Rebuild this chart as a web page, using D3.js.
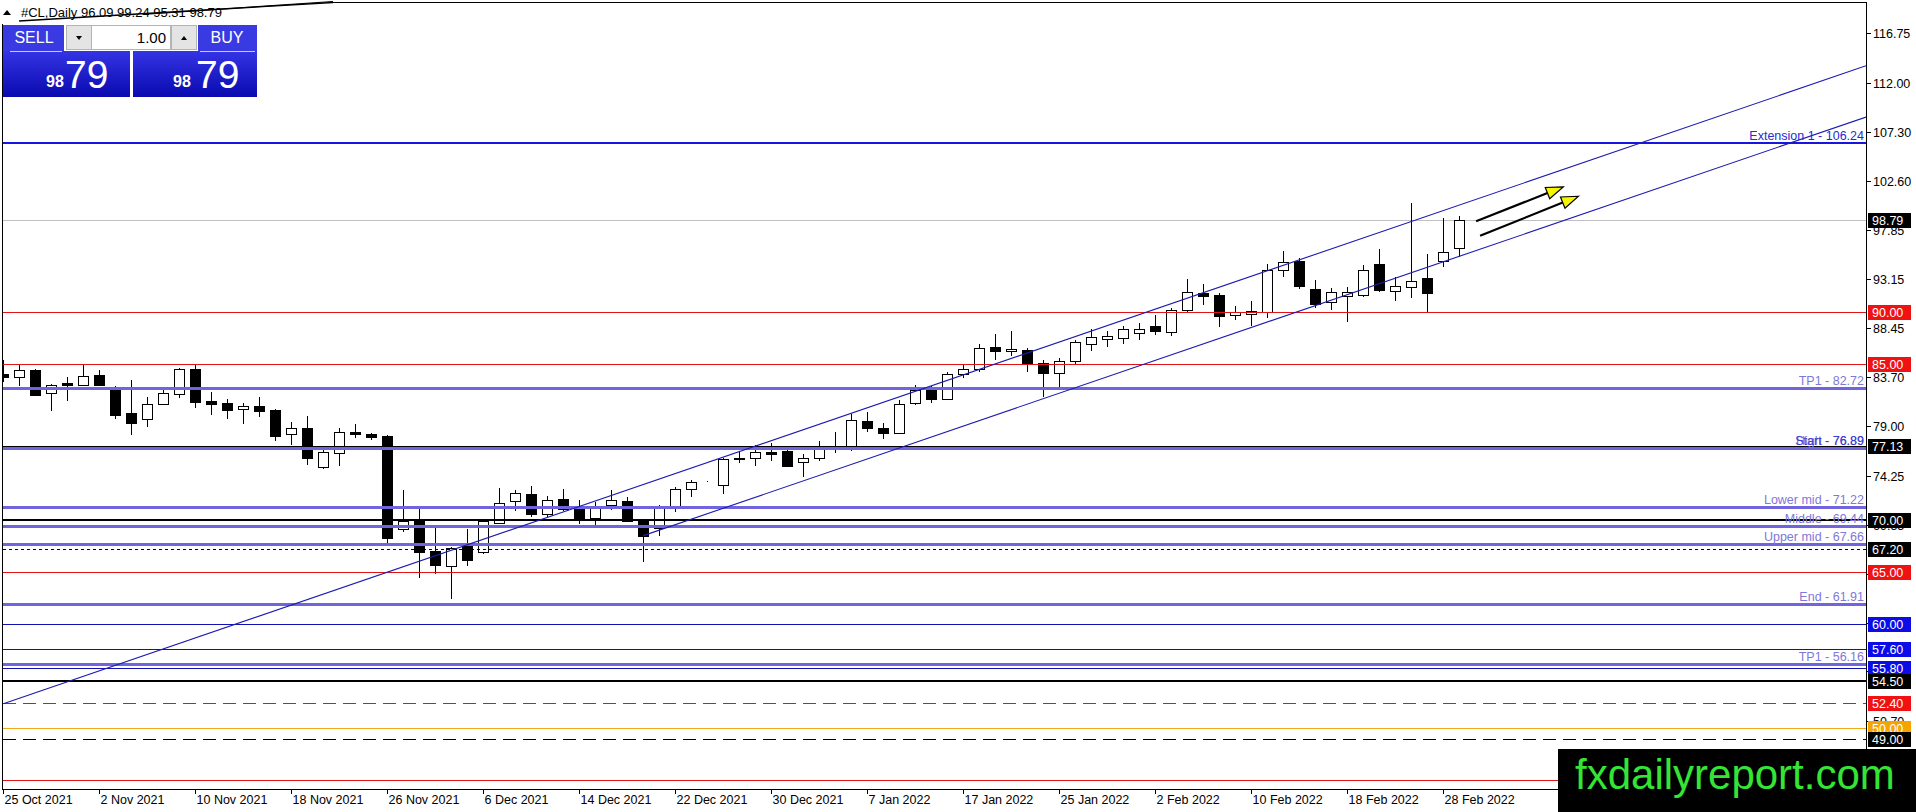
<!DOCTYPE html>
<html><head><meta charset="utf-8">
<script src="https://cdn.jsdelivr.net/npm/d3@7"></script>
<style>html,body{margin:0;padding:0;background:#fff;overflow:hidden}svg{display:block}</style>
</head><body>
<svg id="c" width="1916" height="812"></svg>
<script>
// ---------------- DATA ----------------
const dates = ["2021-10-25","2021-10-26","2021-10-27","2021-10-28","2021-10-29",
"2021-11-01","2021-11-02","2021-11-03","2021-11-04","2021-11-05",
"2021-11-08","2021-11-09","2021-11-10","2021-11-11","2021-11-12",
"2021-11-15","2021-11-16","2021-11-17","2021-11-18","2021-11-19",
"2021-11-22","2021-11-23","2021-11-24","2021-11-25","2021-11-26",
"2021-11-29","2021-11-30","2021-12-01","2021-12-02","2021-12-03",
"2021-12-06","2021-12-07","2021-12-08","2021-12-09","2021-12-10",
"2021-12-13","2021-12-14","2021-12-15","2021-12-16","2021-12-17",
"2021-12-20","2021-12-21","2021-12-22","2021-12-23","2021-12-24",
"2021-12-27","2021-12-28","2021-12-29","2021-12-30","2021-12-31",
"2022-01-03","2022-01-04","2022-01-05","2022-01-06","2022-01-07",
"2022-01-10","2022-01-11","2022-01-12","2022-01-13","2022-01-14",
"2022-01-17","2022-01-18","2022-01-19","2022-01-20","2022-01-21",
"2022-01-24","2022-01-25","2022-01-26","2022-01-27","2022-01-28",
"2022-01-31","2022-02-01","2022-02-02","2022-02-03","2022-02-04",
"2022-02-07","2022-02-08","2022-02-09","2022-02-10","2022-02-11",
"2022-02-14","2022-02-15","2022-02-16","2022-02-17","2022-02-18",
"2022-02-21","2022-02-22","2022-02-23","2022-02-24","2022-02-25",
"2022-02-28","2022-03-01"];

const open = [84.0,83.7,84.4,82.2,83.15,82.95,83.9,82.7,80.3,79.7,
81.1,82.1,84.5,81.45,81.25,80.65,80.95,80.55,78.3,78.85,
75.1,76.4,78.45,78.25,78.1,69.16,69.89,66.98,65.58,67.46,
66.92,69.7,71.8,72.51,70.59,72.06,71.17,70.21,71.45,71.87,
69.89,69.25,71.23,72.99,73.69,73.37,75.95,75.95,76.56,76.66,
75.54,75.92,76.95,77.13,79.53,78.83,78.35,81.22,82.56,81.6,
84.0,84.5,86.6,86.2,86.3,85.1,84.1,85.3,86.9,87.4,
87.5,88.0,88.6,88.1,90.17,91.78,91.6,89.7,89.8,90.0,
94.0,94.9,92.2,90.9,91.5,91.6,94.6,92.0,92.41,93.2,
94.91,96.09];
const high = [85.4,84.9,84.5,83.1,83.7,84.9,84.4,82.9,83.4,81.8,
82.75,84.6,84.9,82.3,81.6,81.25,81.8,80.65,79.4,80.0,
76.8,78.8,79.2,78.35,78.2,72.9,71.17,69.41,67.4,69.16,
70.1,73.05,72.92,73.3,72.35,72.99,71.96,71.71,72.92,72.25,
69.95,71.45,73.14,73.88,73.72,75.95,76.66,77.23,77.39,76.7,
76.34,77.61,78.47,80.17,80.39,79.3,81.51,82.94,82.88,84.2,
84.9,86.9,87.9,88.2,86.5,85.4,85.6,87.3,88.3,88.2,
88.6,88.9,89.7,90.4,93.12,92.64,91.8,90.6,91.0,94.6,
95.8,95.2,93.1,92.3,92.4,94.5,96.0,93.3,100.48,95.55,
98.98,99.24];
const low = [83.3,82.9,81.9,80.5,81.4,82.9,82.9,79.7,78.2,78.9,
81.0,81.75,80.8,80.1,79.7,79.25,79.9,77.6,77.2,75.3,
74.9,75.2,77.9,77.7,67.6,68.84,64.43,64.85,62.42,65.58,
66.76,69.57,70.91,70.27,70.27,70.85,69.57,69.33,70.97,69.79,
65.96,68.45,70.75,72.19,73.66,72.51,75.47,75.22,75.63,75.06,
74.17,75.63,76.4,76.66,78.41,77.77,78.25,81.03,81.28,81.5,
83.6,84.2,85.4,85.8,84.2,81.8,82.6,84.9,86.2,86.6,
86.9,87.3,87.8,87.7,90.0,90.65,88.57,89.2,88.6,89.4,
93.3,92.2,90.4,90.2,89.0,91.4,91.9,91.0,91.35,90.0,
94.33,95.31];
const close = [83.7,84.4,82.0,83.0,83.0,83.8,83.0,80.1,79.35,81.1,
82.2,84.5,81.3,81.15,80.6,80.95,80.5,78.1,78.85,76.0,
76.5,78.5,78.3,78.0,68.3,69.89,66.92,65.68,67.34,66.12,
69.95,71.64,72.6,70.53,71.93,71.07,70.18,71.39,71.96,69.89,
68.45,71.13,72.99,73.62,73.69,75.86,75.86,76.56,76.34,75.16,
75.95,76.82,77.05,79.59,78.79,78.32,81.12,82.5,81.6,84.06,
84.5,86.5,86.2,86.4,85.1,84.1,85.3,87.1,87.6,87.7,
88.3,88.3,88.2,90.17,91.87,91.54,89.62,90.0,90.1,94.0,
94.8,92.5,90.7,91.9,91.9,94.0,92.1,92.5,92.95,91.83,
95.71,98.79];

const xTickLabels = ["25 Oct 2021","2 Nov 2021","10 Nov 2021","18 Nov 2021","26 Nov 2021",
"6 Dec 2021","14 Dec 2021","22 Dec 2021","30 Dec 2021","7 Jan 2022","17 Jan 2022",
"25 Jan 2022","2 Feb 2022","10 Feb 2022","18 Feb 2022","28 Feb 2022"];
const yTickValues = [116.75,112.00,107.30,102.60,97.85,93.15,88.45,83.70,79.00,74.25,69.55,64.85,60.15,55.45,50.70,46.00];

const symbolName = "#CL,Daily";
const lastOHLC = [96.09, 99.24, 95.31, 98.79];
const currentPrice = 98.79;
const lotSize = "1.00";

const fiboNames  = ["Extension 1","TP1","High","Start","Lower mid","Middle","Upper mid","End","TP1"];
const fiboValues = [106.24, 82.72, 76.89, 76.89, 71.22, 69.44, 67.66, 61.91, 56.16];
const redLevels = [90.00, 85.00, 65.00, 45.00];
const blueLevels = [60.00, 57.60, 55.80];
const blackLevels = [77.13, 70.00, 54.50];
const dottedBlackLevels = [67.20];
const dashedRedLevels = [52.40];
const orangeLevels = [50.00];
const dashedBlackLevels = [49.00];

// trend channel anchors [barIndex, price]
const channelUpper = [[0, 52.35], [86, 97.62]];
const channelLower = [[40, 68.5], [86, 92.7]];
// arrows [barIndex, price] from -> to
const arrowStarts = [[92.05, 98.7], [92.3, 97.3]];
const arrowEnds   = [[97.5, 102.0], [98.45, 101.1]];

// ---------------- LAYOUT ----------------
const L = 3, R = 1866, T = 3, B = 789;
const FONT = "'Liberation Sans', Arial, sans-serif";
const svg = d3.select("#c");

const x = d3.scaleLinear().domain([0, 91]).range([3.3, 1459.3]);
const y = d3.scaleLinear().domain([116.75, 60]).range([33.3, 624.1]);
const px = v => Math.round(v) + 0.5;

const defs = svg.append("defs");
defs.append("clipPath").attr("id","plot")
  .append("rect").attr("x",L).attr("y",T).attr("width",R-L).attr("height",B-T);

const plot = svg.append("g").attr("clip-path","url(#plot)");

// current price line
plot.append("line").attr("x1",L).attr("x2",R)
  .attr("y1",px(y(currentPrice))).attr("y2",px(y(currentPrice)))
  .attr("stroke","#c0c0c0").attr("stroke-width",1);

// ---------------- CANDLES ----------------
const bars = d3.range(dates.length).map(i => ({i, o:open[i], h:high[i], l:low[i], c:close[i]}));
const cg = plot.append("g").attr("shape-rendering","crispEdges");
cg.selectAll("line.wick").data(bars).join("line").attr("class","wick")
  .attr("x1", d => px(x(d.i))).attr("x2", d => px(x(d.i)))
  .attr("y1", d => Math.round(y(d.h))).attr("y2", d => Math.round(y(d.l)))
  .attr("stroke","#000").attr("stroke-width",1);
cg.selectAll("rect.body").data(bars).join("rect").attr("class","body")
  .attr("x", d => Math.round(x(d.i)) - 5 + 0.5)
  .attr("width", 10)
  .attr("y", d => Math.round(y(Math.max(d.o,d.c))) + 0.5)
  .attr("height", d => Math.max(0, Math.round(y(Math.min(d.o,d.c))) - Math.round(y(Math.max(d.o,d.c)))))
  .attr("fill", d => d.c >= d.o ? "#fff" : "#000")
  .attr("stroke","#000").attr("stroke-width",1);

// ---------------- HORIZONTAL LEVELS ----------------
const lg = plot.append("g").attr("shape-rendering","crispEdges");
function hline(v, color, width, dash){
  const yy = width % 2 === 1 ? px(y(v)) : Math.round(y(v));
  lg.append("line").attr("x1",L).attr("x2",R).attr("y1",yy).attr("y2",yy)
    .attr("stroke",color).attr("stroke-width",width)
    .attr("stroke-dasharray", dash || null);
}
redLevels.forEach(v => hline(v, "#e01414", 1));
blueLevels.forEach(v => hline(v, "#1212b4", 1));
orangeLevels.forEach(v => hline(v, "#f0a818", 1));
dashedRedLevels.forEach(v => hline(v, "#e01414", 1, "13,7"));
dashedBlackLevels.forEach(v => hline(v, "#000", 1, "13,7"));
dottedBlackLevels.forEach(v => hline(v, "#000", 1, "3,3"));
fiboValues.forEach((v,k) => hline(v, k === 0 ? "#1616e0" : "#7065dc", k === 0 ? 2 : 3));
blackLevels.forEach((v,k) => hline(v, "#000", k === 0 ? 1 : 2));

// fibo texts
const ft = svg.append("g").attr("font-family",FONT).attr("font-size","12.5px").attr("text-anchor","end");
fiboNames.forEach((n,k) => {
  const col = k === 0 ? "#2a2ad6" : (n === "Start" ? "#3a3ad0" : "#8078d8");
  ft.append("text").attr("x", 1864).attr("y", Math.round(y(fiboValues[k])) - 3)
    .attr("fill", col).text(n + " - " + fiboValues[k].toFixed(2));
});

// ---------------- CHANNEL ----------------
function ray(a, b, color){
  const x1 = x(a[0]), y1 = y(a[1]), x2 = x(b[0]), y2 = y(b[1]);
  const s = (y2 - y1) / (x2 - x1);
  plot.append("line").attr("x1",x1).attr("y1",y1).attr("x2",R).attr("y2",y1 + s*(R-x1))
    .attr("stroke",color).attr("stroke-width",1.1);
}
ray(channelUpper[0], channelUpper[1], "#1c1cb0");
ray(channelLower[0], channelLower[1], "#1c1cb0");

// ---------------- ARROWS ----------------
arrowStarts.forEach((s,k) => {
  const e = arrowEnds[k];
  const x1 = x(s[0]), y1 = y(s[1]), x2 = x(e[0]), y2 = y(e[1]);
  const ang = Math.atan2(y2-y1, x2-x1);
  const hl = 17, hw = 6;
  const bx = x2 - hl*Math.cos(ang), by = y2 - hl*Math.sin(ang);
  plot.append("line").attr("x1",x1).attr("y1",y1).attr("x2",bx).attr("y2",by)
    .attr("stroke","#000").attr("stroke-width",2.2);
  const p1 = [bx + hw*Math.sin(ang), by - hw*Math.cos(ang)];
  const p2 = [bx - hw*Math.sin(ang), by + hw*Math.cos(ang)];
  plot.append("path").attr("d", `M${x2},${y2}L${p1[0]},${p1[1]}L${p2[0]},${p2[1]}Z`)
    .attr("fill","#f5f500").attr("stroke","#000").attr("stroke-width",1.2);
});

// ---------------- FRAME / AXES ----------------
const fr = svg.append("g").attr("shape-rendering","crispEdges").attr("stroke","#000").attr("stroke-width",1);
fr.append("line").attr("x1",2.5).attr("x2",2.5).attr("y1",24).attr("y2",B+0.5);
fr.append("line").attr("x1",2.5).attr("x2",R+0.5).attr("y1",B+0.5).attr("y2",B+0.5);
fr.append("line").attr("x1",R+0.5).attr("x2",R+0.5).attr("y1",2.5).attr("y2",B+0.5);
fr.append("line").attr("x1",333).attr("x2",R+0.5).attr("y1",2.5).attr("y2",2.5);

// right axis ticks + labels
const ya = svg.append("g").attr("font-family",FONT).attr("font-size","12.5px");
yTickValues.forEach(v => {
  const yy = px(y(v));
  ya.append("line").attr("x1",R).attr("x2",R+5).attr("y1",yy).attr("y2",yy)
    .attr("stroke","#000").attr("shape-rendering","crispEdges");
  ya.append("text").attr("x",1873).attr("y",yy).attr("dy","0.36em").attr("fill","#000").text(v.toFixed(2));
});

// price boxes
const boxes = [
  ...redLevels.map(v => [v, "#f01212"]),
  ...blueLevels.map(v => [v, "#0c0ce6"]),
  ...blackLevels.map(v => [v, "#000"]),
  ...dottedBlackLevels.map(v => [v, "#000"]),
  ...dashedRedLevels.map(v => [v, "#f01212"]),
  ...orangeLevels.map(v => [v, "#f5a400"]),
  ...dashedBlackLevels.map(v => [v, "#000"]),
  [currentPrice, "#000"]
];
const bg = svg.append("g").attr("font-family",FONT).attr("font-size","12.5px");
boxes.forEach(([v,col]) => {
  const yy = Math.round(y(v));
  bg.append("rect").attr("x",1868).attr("y",yy-7).attr("width",43).attr("height",15).attr("fill",col);
  bg.append("text").attr("x",1872).attr("y",yy).attr("dy","0.38em").attr("fill","#fff").text(v.toFixed(2));
});

// x axis ticks + labels
const fmt = d3.timeFormat("%-d %b %Y"), parse = d3.timeParse("%Y-%m-%d");
const xa = svg.append("g").attr("font-family",FONT).attr("font-size","12.5px");
xTickLabels.forEach(lab => {
  const i = dates.findIndex(d => fmt(parse(d)) === lab);
  if (i < 0) return;
  const xx = px(x(i));
  xa.append("line").attr("x1",xx).attr("x2",xx).attr("y1",B).attr("y2",B+5)
    .attr("stroke","#000").attr("shape-rendering","crispEdges");
  xa.append("text").attr("x",xx+1).attr("y",804).attr("fill","#000").text(lab);
});

// ---------------- HEADER ----------------
const hd = svg.append("g").attr("font-family",FONT);
hd.append("path").attr("d","M3,15L7,10L11,15Z").attr("fill","#000");
hd.append("text").attr("x",21).attr("y",17).attr("font-size","13px").attr("fill","#000")
  .text(symbolName + "  " + lastOHLC.map(v => v.toFixed(2)).join(" "));
hd.append("line").attr("x1",19).attr("y1",21).attr("x2",333).attr("y2",2.5).attr("stroke","#000").attr("stroke-width",1.4);
hd.append("line").attr("x1",150).attr("y1",14).attr("x2",333).attr("y2",1.5).attr("stroke","#000").attr("stroke-width",1.2);

// trading panel
const gr = defs.append("linearGradient").attr("id","pg").attr("x1",0).attr("x2",0).attr("y1",0).attr("y2",1);
gr.append("stop").attr("offset","0%").attr("stop-color","#3434e4");
gr.append("stop").attr("offset","100%").attr("stop-color","#0a0ab0");
const pn = svg.append("g").attr("font-family",FONT);
pn.append("rect").attr("x",3).attr("y",25).attr("width",61).attr("height",26).attr("fill","#3a3ae2");
pn.append("rect").attr("x",198).attr("y",25).attr("width",59).attr("height",26).attr("fill","#3a3ae2");
pn.append("text").attr("x",34).attr("y",43).attr("text-anchor","middle").attr("font-size","16px").attr("fill","#fff").text("SELL");
pn.append("text").attr("x",227).attr("y",43).attr("text-anchor","middle").attr("font-size","16px").attr("fill","#fff").text("BUY");
pn.append("rect").attr("x",66.5).attr("y",25.5).attr("width",25).attr("height",24).attr("fill","#e4e4e4").attr("stroke","#b4b4b4");
pn.append("rect").attr("x",91.5).attr("y",25.5).attr("width",79).attr("height",24).attr("fill","#fff").attr("stroke","#b4b4b4");
pn.append("rect").attr("x",171.5).attr("y",25.5).attr("width",25).attr("height",24).attr("fill","#e4e4e4").attr("stroke","#b4b4b4");
pn.append("path").attr("d","M76,36L82,36L79,40Z").attr("fill","#000");
pn.append("path").attr("d","M181,40L187,40L184,36Z").attr("fill","#000");
pn.append("text").attr("x",166).attr("y",43).attr("text-anchor","end").attr("font-size","15px").attr("fill","#000").text(lotSize);
pn.append("rect").attr("x",3).attr("y",51).attr("width",127).attr("height",46).attr("fill","url(#pg)");
pn.append("rect").attr("x",133).attr("y",51).attr("width",124).attr("height",46).attr("fill","url(#pg)");
pn.append("line").attr("x1",10).attr("x2",62).attr("y1",51.5).attr("y2",51.5).attr("stroke","#c8c8ff");
pn.append("line").attr("x1",200).attr("x2",255).attr("y1",51.5).attr("y2",51.5).attr("stroke","#c8c8ff");
const pStr = currentPrice.toFixed(2).split(".");
[[46,65],[173,196]].forEach(([a,b]) => {
  pn.append("text").attr("x",a).attr("y",87).attr("font-size","16px").attr("font-weight","bold").attr("fill","#fff").text(pStr[0]);
  pn.append("text").attr("x",b).attr("y",88).attr("font-size","39px").attr("fill","#fff").text(pStr[1]);
});

// ---------------- WATERMARK ----------------
svg.append("rect").attr("x",1558).attr("y",749).attr("width",358).attr("height",63).attr("fill","#000");
svg.append("text").attr("x",1575).attr("y",789).attr("font-family",FONT).attr("font-size","42px")
  .attr("fill","#35e535").text("fxdailyreport.com");
</script>
</body></html>
